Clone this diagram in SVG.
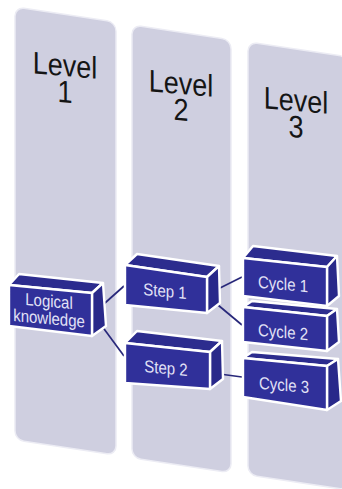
<svg xmlns="http://www.w3.org/2000/svg" width="342" height="489" viewBox="0 0 342 489">
  <style>
    .col { fill: #cfcfe0; stroke: #ececf4; stroke-width: 1.5; }
    .lvl { font-family: "Liberation Sans", Arial, sans-serif; font-size: 27px; fill: #151515; text-anchor: middle; }
    .front { fill: #30309a; stroke: #ffffff; stroke-width: 2.4; stroke-linejoin: round; }
    .top { fill: #2c2c8e; stroke: #ffffff; stroke-width: 2.4; stroke-linejoin: round; }
    .side { fill: #29298a; stroke: #ffffff; stroke-width: 2.4; stroke-linejoin: round; }
    .lbl { font-family: "Liberation Sans", Arial, sans-serif; font-size: 15px; fill: #e2e2f6; text-anchor: middle; }
    .conn { fill: none; stroke: #28287a; stroke-width: 1.7; }
  </style>

  <!-- level columns (sheared panels) -->
  <g id="level1">
    <g transform="translate(15,7) skewY(8.5)">
      <rect class="col" x="0" y="0" width="101" height="433" rx="9"/>
    </g>
    <g transform="translate(65,76) skewY(5) scale(1,1.15)">
      <text class="lvl" x="0" y="0">Level</text>
      <text class="lvl" x="0" y="23">1</text>
    </g>
  </g>
  <g id="level2">
    <g transform="translate(132,25) skewY(8.5)">
      <rect class="col" x="0" y="0" width="99" height="433" rx="9"/>
    </g>
    <g transform="translate(181,94) skewY(5) scale(1,1.15)">
      <text class="lvl" x="0" y="0">Level</text>
      <text class="lvl" x="0" y="23">2</text>
    </g>
  </g>
  <g id="level3">
    <g transform="translate(248,42) skewY(8.5)">
      <rect class="col" x="0" y="0" width="100" height="433" rx="9"/>
    </g>
    <g transform="translate(296,111) skewY(5) scale(1,1.15)">
      <text class="lvl" x="0" y="0">Level</text>
      <text class="lvl" x="0" y="23">3</text>
    </g>
  </g>

  <!-- connectors -->
  <g id="connectors">
    <line class="conn" x1="96" y1="311" x2="124" y2="286"/>
    <line class="conn" x1="96" y1="318" x2="124" y2="356"/>
    <line class="conn" x1="210" y1="293" x2="242" y2="277"/>
    <line class="conn" x1="212" y1="300" x2="242" y2="325"/>
    <line class="conn" x1="212" y1="373" x2="242" y2="377"/>
  </g>

  <!-- blocks -->
  <g id="logical-knowledge">
    <polygon class="top" points="9,285 19,274 103,283 92,293"/>
    <polygon class="side" points="92,293 103,283 106,326 92,336"/>
    <polygon class="front" points="9,285 92,293 92,336 9,326"/>
    <g transform="translate(49,307) skewY(5) scale(1,1.15)">
      <text class="lbl" x="0" y="0">Logical</text>
      <text class="lbl" x="0" y="15">knowledge</text>
    </g>
  </g>

  <g id="step1">
    <polygon class="top" points="125,265 137,254 219,266 207,277"/>
    <polygon class="side" points="207,277 219,266 220,303 207,313"/>
    <polygon class="front" points="125,265 207,277 207,313 125,305"/>
    <g transform="translate(165,297) skewY(5) scale(1,1.15)">
      <text class="lbl" x="0" y="0">Step 1</text>
    </g>
  </g>

  <g id="step2">
    <polygon class="top" points="125,343 137,331 222,341 210,352"/>
    <polygon class="side" points="210,352 222,341 223,379 210,389"/>
    <polygon class="front" points="125,343 210,352 210,389 125,383"/>
    <g transform="translate(166,374) skewY(5) scale(1,1.15)">
      <text class="lbl" x="0" y="0">Step 2</text>
    </g>
  </g>

  <g id="cycle1">
    <polygon class="top" points="243,258 253,246 337,256 327,267"/>
    <polygon class="side" points="327,267 337,256 339,296 327,306"/>
    <polygon class="front" points="243,258 327,267 327,306 243,296"/>
    <g transform="translate(283,290) skewY(5) scale(1,1.15)">
      <text class="lbl" x="0" y="0">Cycle 1</text>
    </g>
  </g>

  <g id="cycle2">
    <polygon class="top" points="243,307 252,301 337,309 327,316"/>
    <polygon class="side" points="327,316 337,309 339,342 327,351"/>
    <polygon class="front" points="243,307 327,316 327,351 243,342"/>
    <g transform="translate(283,338) skewY(5) scale(1,1.15)">
      <text class="lbl" x="0" y="0">Cycle 2</text>
    </g>
  </g>

  <g id="cycle3">
    <polygon class="top" points="243,358 252,352 338,359 327,366"/>
    <polygon class="side" points="327,366 338,359 341,401 327,410"/>
    <polygon class="front" points="243,358 327,366 327,410 243,397"/>
    <g transform="translate(284,391) skewY(5) scale(1,1.15)">
      <text class="lbl" x="0" y="0">Cycle 3</text>
    </g>
  </g>
</svg>
